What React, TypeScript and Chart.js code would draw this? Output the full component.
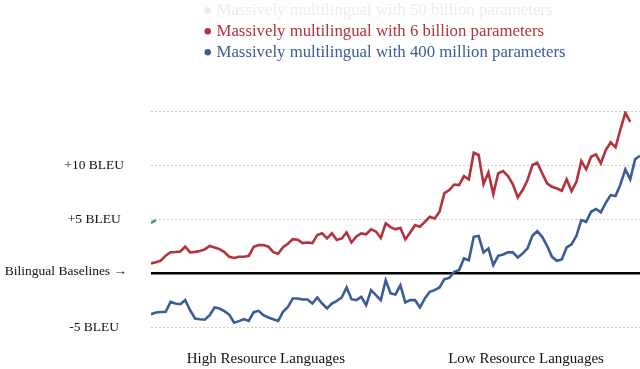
import React, { useEffect, useRef } from 'react';
import { Chart, registerables } from 'chart.js';

Chart.register(...registerables);

// BLEU delta vs bilingual baselines, languages ordered from high to low resource
const gain400M = [
  -3.80, -3.64, -3.60, -3.58, -2.66, -2.81, -2.87, -2.50, -3.43, -4.19,
  -4.26, -4.31, -3.89, -3.18, -3.27, -3.52, -3.84, -4.58, -4.44, -4.26,
  -4.42, -3.61, -3.49, -3.89, -4.10, -4.26, -4.42, -3.58, -3.12, -2.34,
  -2.34, -2.44, -2.44, -2.81, -2.25, -2.81, -3.27, -2.81, -2.56, -2.25,
  -1.32, -2.41, -2.50, -2.19, -2.96, -1.57, -2.04, -2.50, -0.65, -1.88,
  -1.97, -1.11, -2.71, -2.50, -2.50, -3.18, -2.34, -1.73, -1.57, -1.32,
  -0.56, -0.44, 0.12, 0.28, 1.36, 1.20, 3.36, 3.43, 1.92, 2.29,
  0.74, 1.60, 1.73, 1.92, 1.92, 1.45, 1.82, 2.29, 3.45, 3.89,
  3.36, 2.53, 1.51, 1.14, 1.27, 2.38, 2.66, 3.45, 4.91, 4.75,
  5.68, 5.93, 5.62, 6.51, 7.22, 7.13, 8.21, 9.60, 8.68, 10.53,
  10.86,
];

const gain6B = [
  0.90, 1.00, 1.15, 1.62, 1.94, 1.95, 2.00, 2.45, 1.93, 1.97,
  2.05, 2.20, 2.52, 2.38, 2.22, 1.95, 1.52, 1.40, 1.51, 1.52,
  1.60, 2.44, 2.59, 2.60, 2.45, 1.94, 1.80, 2.40, 2.72, 3.15,
  3.10, 2.78, 2.84, 2.78, 3.52, 3.68, 3.21, 3.68, 3.06, 3.21,
  3.77, 2.84, 3.40, 3.68, 3.60, 4.05, 3.85, 3.25, 4.60, 4.26,
  4.05, 4.19, 3.12, 3.77, 4.44, 4.29, 4.75, 5.21, 5.06, 5.68,
  7.40, 7.69, 8.20, 8.15, 8.98, 8.68, 11.14, 10.93, 8.24, 9.32,
  7.31, 9.23, 9.44, 8.98, 8.21, 7.01, 7.69, 8.61, 10.00, 10.21,
  9.23, 8.31, 7.99, 7.84, 7.62, 8.68, 7.59, 8.45, 10.37, 9.60,
  10.77, 10.99, 10.16, 11.39, 12.10, 11.64, 13.31, 14.84, 14.00,
];

const gain50B = [4.65, 4.9];

const seriesLabels = [
  'Massively multilingual with 50 billion parameters',
  'Massively multilingual with 6 billion parameters',
  'Massively multilingual with 400 million parameters',
];

const languageIndex = gain400M.map((_, i) => i);

const yTickValues = [-5, 0, 5, 10, 15];
const yTickLabels = ['-5 BLEU', '', '+5 BLEU', '+10 BLEU', ''];
const baselineLabel = 'Bilingual Baselines →';

const groupLabels = ['High Resource Languages', 'Low Resource Languages'];
const groupCenters = [23.5, 76.7];

const FONT = "'Liberation Serif', 'Times New Roman', serif";
const lineColors = ['#3f9a5c', '#b3323c', '#3b5c99'];
const legendColors = ['#ececec', '#b3323c', '#3b5c99'];

const decorPlugin = {
  id: 'decor',
  beforeDatasetsDraw(chart: any) {
    const { ctx, chartArea, scales } = chart;
    const y0 = scales.y.getPixelForValue(0);
    ctx.save();
    ctx.strokeStyle = '#000';
    ctx.lineWidth = 2.5;
    ctx.beginPath();
    ctx.moveTo(chartArea.left, y0);
    ctx.lineTo(chartArea.right, y0);
    ctx.stroke();
    ctx.restore();
  },
  afterDraw(chart: any) {
    const { ctx, scales } = chart;
    ctx.save();
    const y0 = scales.y.getPixelForValue(0);
    ctx.font = `13.5px ${FONT}`;
    ctx.fillStyle = '#111';
    ctx.textAlign = 'right';
    ctx.textBaseline = 'alphabetic';
    ctx.fillText(baselineLabel, 127, y0 + 1.5);
    ctx.font = `16.8px ${FONT}`;
    ctx.textAlign = 'left';
    chart.data.datasets.forEach((ds: any, i: number) => {
      const base = 15.3 + 21 * i;
      ctx.fillStyle = legendColors[i];
      ctx.beginPath();
      ctx.arc(207.7, base - 5, 3.2, 0, Math.PI * 2);
      ctx.fill();
      ctx.fillText(ds.label, 216.5, base);
    });
    ctx.restore();
  },
};

export default function App() {
  const canvasRef = useRef<HTMLCanvasElement | null>(null);

  useEffect(() => {
    document.body.style.margin = '0';
    Chart.defaults.font.family = FONT;
    const canvas = canvasRef.current;
    if (!canvas) return;
    const chart = new Chart(canvas, {
      type: 'line',
      data: {
        labels: languageIndex,
        datasets: [
          { label: seriesLabels[0], data: gain50B },
          { label: seriesLabels[1], data: gain6B },
          { label: seriesLabels[2], data: gain400M },
        ].map((d, i) => ({
          ...d,
          borderColor: lineColors[i],
          backgroundColor: lineColors[i],
          borderWidth: 2.6,
          pointRadius: 0,
          tension: 0,
          fill: false,
        })),
      },
      options: {
        animation: false,
        responsive: true,
        maintainAspectRatio: false,
        layout: { padding: { top: 111, left: 0, right: 0, bottom: 0 } },
        plugins: {
          legend: { display: false },
          tooltip: { enabled: false },
        },
        scales: {
          x: {
            type: 'linear',
            min: 0,
            max: languageIndex.length - 1,
            grid: { display: false, drawTicks: false },
            border: { display: false },
            afterBuildTicks: (s: any) => {
              s.ticks = groupCenters.map((v) => ({ value: v }));
            },
            afterFit: (s: any) => {
              s.height = 31;
              s.paddingLeft = 0;
              s.paddingRight = 0;
            },
            ticks: {
              autoSkip: false,
              maxRotation: 0,
              padding: 12,
              color: '#111',
              font: { size: 15, family: FONT },
              callback: (_v: any, i: number) => groupLabels[i],
            },
          },
          y: {
            type: 'linear',
            min: -6,
            max: 15,
            grid: {
              drawTicks: false,
              lineWidth: 1,
              color: (c: any) => (c.tick && c.tick.value === 0 ? 'rgba(0,0,0,0)' : '#cccccc'),
            },
            border: { display: false, dash: [2, 2] },
            afterBuildTicks: (s: any) => {
              s.ticks = yTickValues.map((v) => ({ value: v }));
            },
            afterFit: (s: any) => {
              s.width = 151;
              s.paddingTop = 0;
              s.paddingBottom = 0;
            },
            ticks: {
              crossAlign: 'center',
              padding: 27,
              color: '#111',
              font: { size: 13.5, family: FONT },
              callback: (_v: any, i: number) => yTickLabels[i],
            },
          },
        },
      },
      plugins: [decorPlugin],
    } as any);
    return () => chart.destroy();
  }, []);

  return (
    <div style={{ width: 640, height: 369, position: 'relative', background: '#fff' }}>
      <canvas ref={canvasRef} />
    </div>
  );
}
